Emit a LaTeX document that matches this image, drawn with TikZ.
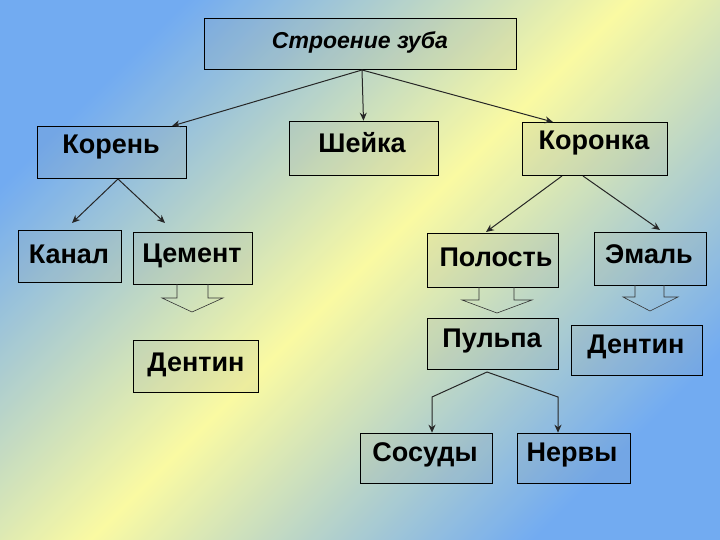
\documentclass[tikz,border=0pt]{standalone}
\usepackage{fontspec}
\setmainfont{Liberation Sans}
\usetikzlibrary{arrows.meta}
\definecolor{bgblue}{RGB}{95,160,240}
\definecolor{bgyel}{RGB}{250,250,150}
\tikzset{
  box/.style={draw=black, line width=0.6pt, fill=gray, fill opacity=0.1, inner sep=0pt},
  lbl/.style={font=\bfseries\fontsize{27}{30}\selectfont, inner sep=0pt},
  con/.style={draw=black!85, line width=1pt, -{Stealth[length=8pt,width=7pt]}},
  barrow/.style={draw=black!80, line width=0.6pt}
}
\newcommand{\bx}[5]{\node[box, minimum width={#4-#2}, minimum height={#5-#3}] (#1) at ({(#2+#4)/2},{(#3+#5)/2}) {};}
\newcommand{\barr}[8]{%
  \draw[barrow] (#1,#3) -- (#1,#4) -- (#5,#4) -- (#8,#7) -- (#6,#4) -- (#2,#4) -- (#2,#3);}
\begin{document}
\begin{tikzpicture}[x=1pt,y=-1pt]
\useasboundingbox (0,0) rectangle (720,540);
\shade[bottom color=bgblue, top color=bgblue, middle color=bgyel, shading angle=45] (0,0) rectangle (720,540);
\fill[white, opacity=0.12] (0,0) rectangle (720,540);
% boxes
\bx{tb}{204}{18}{516}{69}
\bx{kb}{37}{126}{186}{178}
\bx{sb}{289}{121}{438}{175}
\bx{crb}{522}{122}{667}{175}
\bx{kanb}{18}{230}{121}{282}
\bx{cemb}{133}{232}{252}{284}
\bx{d1b}{133}{340}{258}{392}
\bx{polb}{427}{233}{558}{287}
\bx{emb}{594}{232}{706}{285}
\bx{pulb}{427}{318}{558}{369}
\bx{d2b}{571}{325}{702}{375}
\bx{sosb}{360}{433}{492}{483}
\bx{nerb}{517}{433}{630}{483}
% labels
\node[lbl, font=\bfseries\itshape\fontsize{23}{26}\selectfont] (t) at (360,42) {Строение зуба};
\node[lbl] (k) at (111,147) {Корень};
\node[lbl] (s) at (362,143) {Шейка};
\node[lbl] (cr) at (594,143) {Коронка};
\node[lbl] (kan) at (69,254) {Канал};
\node[lbl] (cem) at (192,256) {Цемент};
\node[lbl] (d1) at (196,365) {Дентин};
\node[lbl] (pol) at (496,257) {Полость};
\node[lbl] (em) at (649,254) {Эмаль};
\node[lbl] (pul) at (492,341) {Пульпа};
\node[lbl] (d2) at (636,347) {Дентин};
\node[lbl] (sos) at (425,455) {Сосуды};
\node[lbl] (ner) at (572,455) {Нервы};
% connectors
\coordinate (tbot) at (362,70);
\draw[con] (tbot) -- (172,126);
\draw[con] (tbot) -- (sb.north);
\draw[con] (tbot) -- (553,122);
\coordinate (kbot) at (118,179);
\draw[con] (kbot) -- (72,223);
\draw[con] (kbot) -- (165,223);
\draw[con] (562,176) -- (486,232);
\draw[con] (583,176) -- (660,230);
\coordinate (pbot) at (487,372);
\draw[con] (pbot) -- (432,397) -- (sosb.north -| 432,0);
\draw[con] (pbot) -- (558,397) -- (nerb.north -| 558,0);
% block arrows
\barr{177}{208}{284}{298}{162}{223}{312}{192}
\barr{479}{514}{287}{300}{462}{532}{313}{497}
\barr{635}{664}{285}{297}{623}{678}{311}{650}
\end{tikzpicture}
\end{document}
